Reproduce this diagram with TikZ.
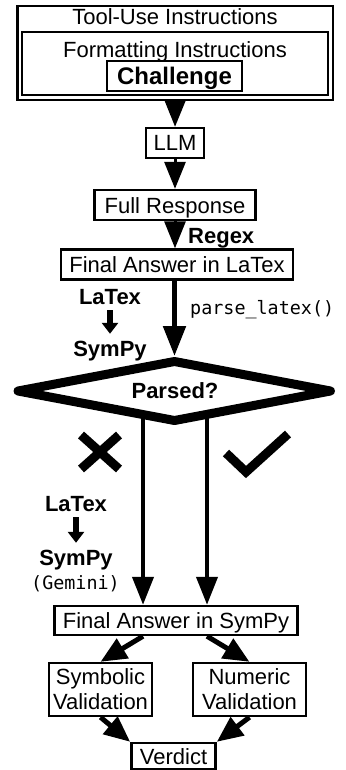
\documentclass[tikz,border=0pt]{standalone}
\usepackage{fontspec}
\setmainfont{Liberation Sans}
\newfontfamily\codefont{DejaVu Sans Mono}
\usetikzlibrary{arrows.meta}

\tikzset{
  box/.style={draw, line width=2.4pt, font=\fontsize{22}{25}\selectfont,
    text height=16pt, text depth=0pt, inner xsep=8.5pt, inner ysep=7pt},
  twoline/.style={draw, line width=2.4pt, font=\fontsize{22}{25}\selectfont,
    align=center, minimum height=53pt, inner sep=0pt},
  frame/.style={draw, line width=2.4pt, inner sep=0pt},
  tag/.style={font=\bfseries\fontsize{22}{25}\selectfont,
    text height=16pt, text depth=0pt, inner sep=4pt},
  code/.style={font=\codefont\fontsize{18.4}{21}\selectfont,
    text height=13pt, text depth=0pt, inner sep=0pt},
  headarrow/.style={line width=3pt, -{Triangle[length=27pt,width=21pt]}},
  thickarrow/.style={line width=5pt, -{Triangle[length=30pt,width=22pt]}},
  downarrow/.style={line width=4pt, -{Triangle[length=28pt,width=21pt]}},
  slantarrow/.style={line width=5pt, -{Triangle[length=26pt,width=22pt]}},
  minorarrow/.style={line width=6.5pt, -{Triangle[length=11pt,width=16pt]},
    shorten <=2pt, shorten >=2pt},
  bigstroke/.style={line width=9pt},
}

\begin{document}
\begin{tikzpicture}[x=1pt, y=-1pt]
  % one unit = one pixel of the reference, y runs downwards
  \useasboundingbox (0,0) rectangle (345,770);

  % -------- top: instructions --------
  \node[frame, minimum width=315.5pt, minimum height=94pt] (tooluse) at (175.25,53) {};
  \node[anchor=base, font=\fontsize{22}{25}\selectfont, inner sep=0pt] (toolusetext) at (175,25) {Tool-Use Instructions};
  \node[frame, minimum width=306pt, minimum height=63pt] (format) at (175,63.5) {};
  \node[anchor=base, font=\fontsize{22}{25}\selectfont, inner sep=0pt] (formattext) at (175,57.3) {Formatting Instructions};
  \node[frame, minimum width=135pt, minimum height=30pt,
        font=\bfseries\fontsize{24}{27}\selectfont, text height=17pt, text depth=0pt] (challenge) at (174.5,76) {Challenge};

  % -------- model and extraction --------
  \node[box, inner xsep=7.5pt] (llm) at (175,143) {LLM};
  \node[box, inner xsep=10pt] (fullresp) at (175,205) {Full Response};
  \node[box] (latexans) at (177,264.5) {Final Answer in LaTex};
  \node[tag, anchor=west, inner sep=0pt] (regex) at (188,235) {Regex};

  \draw[headarrow] (tooluse) -- (llm);
  \draw[headarrow] (llm) -- (fullresp);
  \draw[headarrow] (fullresp.south) -- (fullresp.south |- latexans.north);

  % -------- parsing --------
  \node[tag, inner sep=0pt] (parsed) at (175,390.5) {Parsed?};
  \draw[line width=9pt, line join=round]
    (174.5,361.5) -- (330.5,391) -- (174.5,420.5) -- (18,391) -- cycle;
  \coordinate (ptop) at (174.5,356);
  \coordinate (pno) at (143,413);
  \coordinate (pyes) at (207,413);

  \draw[thickarrow] (latexans.south -| ptop) -- (ptop);
  \node[code, anchor=west] (parsecall) at (190,308) {parse\_latex()};

  \node[tag] (latexa) at (110,296) {LaTex};
  \node[tag] (sympya) at (110,348) {SymPy};
  \draw[minorarrow] (latexa) -- (sympya);

  % -------- fail / pass --------
  \draw[bigstroke] (81,435) -- (119,469) (81,469) -- (119,435);
  \draw[bigstroke, line join=miter] (226,453) -- (246,472) -- (288,434);

  \node[tag] (latexb) at (76,503) {LaTex};
  \node[tag] (sympyb) at (76,557) {SymPy};
  \node[code] (gemini) at (75.5,583) {(Gemini)};
  \draw[minorarrow] (latexb) -- (sympyb);

  \node[box, inner ysep=6.5pt] (sympyans) at (176,620.5) {Final Answer in SymPy};
  \draw[downarrow] (pno) -- (pno |- sympyans.north);
  \draw[downarrow] (pyes) -- (pyes |- sympyans.north);

  % -------- validation --------
  \node[twoline, minimum width=103pt] (symbolic) at (100.5,689.5) {Symbolic\\Validation};
  \node[twoline, minimum width=113pt] (numeric) at (249.5,689.5) {Numeric\\Validation};
  \node[box, minimum width=79pt, minimum height=26pt, inner ysep=0pt] (verdict) at (173.5,756) {Verdict};

  \draw[slantarrow] (pno |- sympyans.south) -- (symbolic.north);
  \draw[slantarrow] (pyes |- sympyans.south) -- (numeric.north);
  \draw[slantarrow] (symbolic.south) -- (verdict.north west);
  \draw[slantarrow] (numeric.south) -- (verdict.north east);
\end{tikzpicture}
\end{document}
